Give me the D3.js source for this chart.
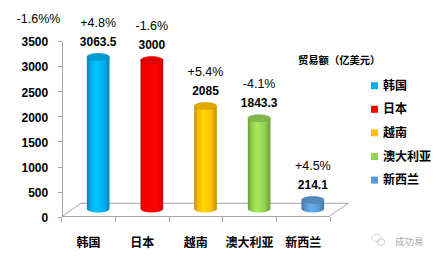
<!DOCTYPE html>
<html lang="zh">
<head>
<meta charset="utf-8">
<title>贸易额（亿美元）</title>
<script src="https://cdn.jsdelivr.net/npm/d3@7/dist/d3.min.js"></script>
<style>
  body { margin: 0; background: #fff; }
  svg { display: block; font-family: "Liberation Sans", Arial, "Noto Sans CJK SC", sans-serif; }
  .axis path, .axis line { stroke: #a6a6a6; shape-rendering: crispEdges; }
  .axis text { font-size: 12px; font-weight: bold; fill: #000; }
  .val { font-size: 12px; font-weight: bold; }
  .pct { font-size: 12.5px; }
  .cat { font-size: 12px; font-weight: bold; }
  .legend text { font-size: 12px; font-weight: bold; }
</style>
</head>
<body>
<svg id="chart" width="438" height="261"></svg>
<script>
const countries = ["韩国", "日本", "越南", "澳大利亚", "新西兰"];
const tradeValues = [3063.5, 3000, 2085, 1843.3, 214.1];
const valueLabels = ["3063.5", "3000", "2085", "1843.3", "214.1"];
const changeLabels = ["+4.8%", "-1.6%", "+5.4%", "-4.1%", "+4.5%"];
const yTicks = [0, 500, 1000, 1500, 2000, 2500, 3000, 3500];
const colors = ["#00b0f0", "#ff0000", "#ffc000", "#92d050", "#5b9bd5"];

const svg = d3.select("#chart");
svg.append("rect").attr("width", 438).attr("height", 261).attr("fill", "#fff");

const left = 61.7, right = 330, depthX = 19.3, depthY = -13.4;
const x = d3.scaleBand().domain(countries).range([left, right]).padding(0);
const y = d3.scaleLinear().domain([0, 3500]).range([216.7, 41]);

// floor
const y0 = y(0);
svg.append("path")
    .attr("d", `M${left},${y0} L${left + depthX},${y0 + depthY} L${right + depthX - 1},${y0 + depthY} L${right},${y0 - 1}`)
    .attr("fill", "none")
    .attr("stroke", "#a6a6a6")
    .attr("stroke-width", 1);

// y axis
svg.append("g")
    .attr("class", "y axis")
    .attr("transform", `translate(${left},0)`)
    .call(d3.axisLeft(y).tickValues(yTicks).tickFormat(d3.format("d"))
        .tickSize(4).tickSizeOuter(0).tickPadding(9.5))
    .call(g => g.selectAll("text").attr("dy", "0.4em"));

// x axis (ticks between categories)
const xAxis = svg.append("g").attr("class", "x axis");
xAxis.append("line")
    .attr("x1", left).attr("x2", right)
    .attr("y1", y0).attr("y2", y0);
xAxis.selectAll(".xt")
    .data(d3.range(countries.length + 1))
    .join("line")
    .attr("class", "xt")
    .attr("x1", i => left + i * x.step())
    .attr("x2", i => left + i * x.step())
    .attr("y1", y0).attr("y2", y0 + 5.5);
xAxis.selectAll(".cat")
    .data(countries)
    .join("text")
    .attr("class", "cat")
    .attr("x", d => x(d) + x.bandwidth() / 2)
    .attr("y", 243)
    .attr("text-anchor", "middle")
    .attr("dominant-baseline", "central")
    .text(d => d);

// gradients for the cylinders
const defs = svg.append("defs");
colors.forEach((c, i) => {
    const base = d3.color(c);
    const g = defs.append("linearGradient").attr("id", "cyl" + i)
        .attr("x1", "0%").attr("x2", "100%").attr("y1", "0%").attr("y2", "0%");
    g.append("stop").attr("offset", "0%").attr("stop-color", base.darker(0.9));
    g.append("stop").attr("offset", "12%").attr("stop-color", base.darker(0.2));
    g.append("stop").attr("offset", "40%").attr("stop-color", base.brighter(0.35));
    g.append("stop").attr("offset", "75%").attr("stop-color", base);
    g.append("stop").attr("offset", "100%").attr("stop-color", base.darker(0.8));
});

// cylinders
const bw = 22.6, ry = 3.5, midX = depthX / 2;
const baseY = y0 - 7.7;
const bars = svg.append("g").selectAll("g")
    .data(countries)
    .join("g");
const cx = d => x(d) + x.bandwidth() / 2 + midX;
const topY = i => Math.min(y(tradeValues[i]) - 6, baseY - 1);

bars.append("ellipse")
    .attr("cx", cx).attr("cy", baseY)
    .attr("rx", bw / 2).attr("ry", ry)
    .attr("fill", (d, i) => `url(#cyl${i})`);
bars.append("rect")
    .attr("x", d => cx(d) - bw / 2)
    .attr("y", (d, i) => topY(i))
    .attr("width", bw)
    .attr("height", (d, i) => baseY - topY(i))
    .attr("fill", (d, i) => `url(#cyl${i})`);
bars.append("ellipse")
    .attr("cx", cx).attr("cy", (d, i) => topY(i))
    .attr("rx", bw / 2).attr("ry", ry)
    .attr("fill", (d, i) => d3.color(colors[i]).darker(0.35))
    .attr("stroke", (d, i) => d3.color(colors[i]).darker(0.6))
    .attr("stroke-width", 0.6);

// data labels
bars.append("text")
    .attr("class", "val")
    .attr("x", cx)
    .attr("y", (d, i) => topY(i) - 15)
    .attr("text-anchor", "middle")
    .attr("dominant-baseline", "central")
    .text((d, i) => valueLabels[i]);
bars.append("text")
    .attr("class", "pct")
    .attr("x", cx)
    .attr("y", (d, i) => topY(i) - 34)
    .attr("text-anchor", "middle")
    .attr("dominant-baseline", "central")
    .text((d, i) => changeLabels[i]);

// stray label top-left
svg.append("text")
    .attr("class", "pct")
    .attr("x", 38.5).attr("y", 19)
    .attr("text-anchor", "middle")
    .attr("dominant-baseline", "central")
    .text("-1.6%%");

// legend
svg.append("text")
    .attr("x", 298).attr("y", 60)
    .attr("dominant-baseline", "central")
    .style("font-size", "10.3px").style("font-weight", "bold")
    .text("贸易额（亿美元）");
const legend = svg.append("g").attr("class", "legend")
    .selectAll("g")
    .data(countries)
    .join("g")
    .attr("transform", (d, i) => `translate(371,${85.7 + i * 23.6})`);
legend.append("rect")
    .attr("x", 0).attr("y", -3.5)
    .attr("width", 7).attr("height", 7)
    .attr("fill", (d, i) => colors[i]);
legend.append("text")
    .attr("x", 12).attr("y", 0)
    .attr("dominant-baseline", "central")
    .text(d => d);

// watermark
const wm = svg.append("g").attr("fill", "none").attr("stroke", "#c8c8c8").attr("stroke-width", 0.8);
wm.append("ellipse").attr("cx", 376.5).attr("cy", 238).attr("rx", 4.5).attr("ry", 3.8);
wm.append("ellipse").attr("cx", 381).attr("cy", 242).attr("rx", 4).attr("ry", 3.3);
svg.append("text")
    .attr("x", 395).attr("y", 241.7)
    .attr("dominant-baseline", "central")
    .attr("fill", "#aaa")
    .style("font-size", "9.5px")
    .text("成功易");
</script>
</body>
</html>
